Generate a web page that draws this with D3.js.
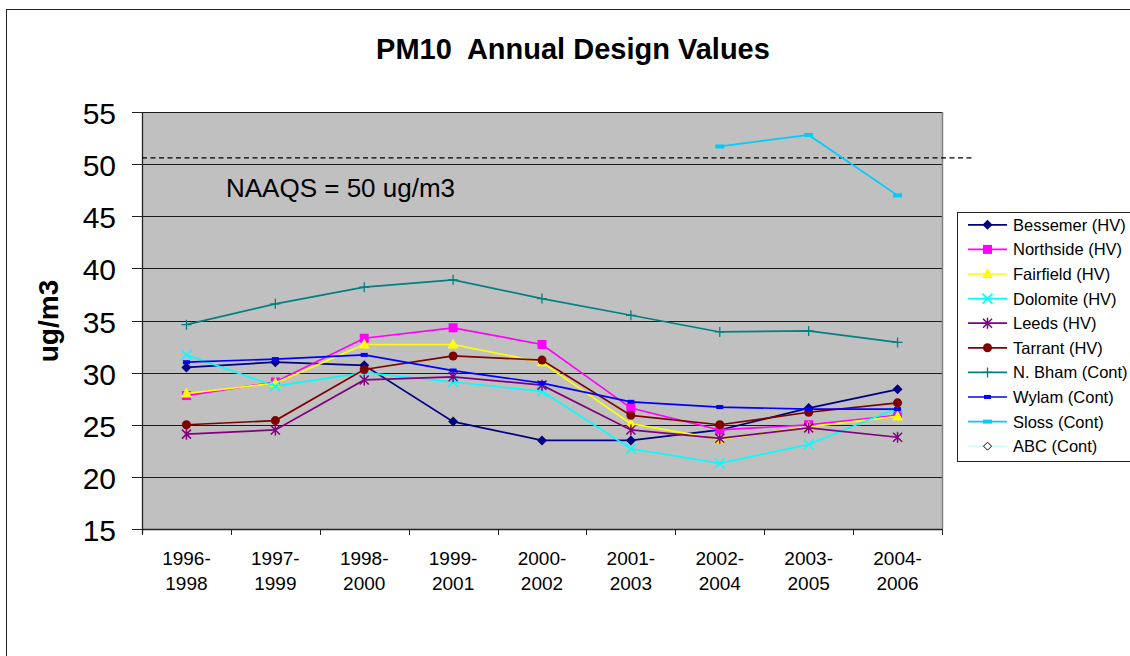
<!DOCTYPE html>
<html>
<head>
<meta charset="utf-8">
<script src="https://cdn.jsdelivr.net/npm/d3@7"></script>
<style>
  body { margin: 0; background: #fff; }
  svg { display: block; font-family: "Liberation Sans", Arial, sans-serif; }
</style>
</head>
<body>
<svg id="chart" width="1130" height="656"></svg>
<script>
// data
const periods = ["1996-1998", "1997-1999", "1998-2000", "1999-2001", "2000-2002",
                 "2001-2003", "2002-2004", "2003-2005", "2004-2006"];

const bessemer  = [30.5, 31.0, 30.7, 25.3, 23.5, 23.5, 24.5, 26.6, 28.4];
const northside = [27.8, 29.1, 33.3, 34.3, 32.7, 26.6, 24.5, 25.0, 25.9];
const fairfield = [28.0, 29.0, 32.7, 32.7, 31.0, 25.1, 23.6, 24.8, 25.8];
const dolomite  = [31.7, 28.7, 30.0, 29.1, 28.2, 22.7, 21.3, 23.1, 26.6];
const leeds     = [24.1, 24.5, 29.3, 29.6, 28.8, 24.5, 23.7, 24.7, 23.8];
const tarrant   = [25.0, 25.4, 30.3, 31.6, 31.2, 25.9, 25.0, 26.2, 27.1];
const nBham     = [34.6, 36.6, 38.2, 38.9, 37.1, 35.5, 33.9, 34.0, 32.9];
const wylam     = [31.0, 31.3, 31.7, 30.2, 29.0, 27.2, 26.7, 26.5, 26.5];
const sloss     = [null, null, null, null, null, null, 51.7, 52.8, 47.0];
const abc       = [null, null, null, null, null, null, null, null, null];

const yTicks = [15, 20, 25, 30, 35, 40, 45, 50, 55];
const naaqsLine = 50.6;
const naaqsLabel = "NAAQS = 50 ug/m3";

const series = [
  { name: "Bessemer (HV)",  values: bessemer,  color: "#000080", marker: "diamond" },
  { name: "Northside (HV)", values: northside, color: "#FF00FF", marker: "square" },
  { name: "Fairfield (HV)", values: fairfield, color: "#FFFF00", marker: "triangle" },
  { name: "Dolomite (HV)",  values: dolomite,  color: "#00FFFF", marker: "x" },
  { name: "Leeds (HV)",     values: leeds,     color: "#800080", marker: "star" },
  { name: "Tarrant (HV)",   values: tarrant,   color: "#800000", marker: "circle" },
  { name: "N. Bham (Cont)", values: nBham,     color: "#008080", marker: "plus" },
  { name: "Wylam (Cont)",   values: wylam,     color: "#0000FF", marker: "dash" },
  { name: "Sloss (Cont)",   values: sloss,     color: "#00CCFF", marker: "longdash" },
  { name: "ABC (Cont)",     values: abc,       color: "#CCFFFF", marker: "hollowdiamond" }
];

const svg = d3.select("#chart");
const plot = { left: 142, right: 942, top: 112, bottom: 529 };

const x = d3.scaleBand().domain(periods).range([plot.left, plot.right]);
const y = d3.scaleLinear().domain([15, 55]).range([plot.bottom, plot.top]);
const cx = p => x(p) + x.bandwidth() / 2;

// outer frame
svg.append("rect")
  .attr("x", 6.5).attr("y", 9.5).attr("width", 1140).attr("height", 660)
  .attr("fill", "none").attr("stroke", "#222").attr("stroke-width", 1);

// title
svg.append("text")
  .attr("x", 573).attr("y", 59)
  .attr("text-anchor", "middle")
  .attr("font-size", "29px").attr("font-weight", "bold")
  .attr("xml:space", "preserve")
  .text("PM10  Annual Design Values");

// plot background
svg.append("rect")
  .attr("x", plot.left).attr("y", plot.top)
  .attr("width", plot.right - plot.left).attr("height", plot.bottom - plot.top)
  .attr("fill", "#C0C0C0");

// gridlines
svg.append("g").selectAll("line")
  .data(yTicks.filter(t => t > 15))
  .join("line")
  .attr("x1", plot.left).attr("x2", plot.right)
  .attr("y1", d => Math.round(y(d)) + 0.5).attr("y2", d => Math.round(y(d)) + 0.5)
  .attr("stroke", "#1a1a1a").attr("stroke-width", 1);

// right border of plot
svg.append("line")
  .attr("x1", plot.right + 0.5).attr("x2", plot.right + 0.5)
  .attr("y1", plot.top).attr("y2", plot.bottom)
  .attr("stroke", "#808080").attr("stroke-width", 1.5);

// y axis
const yAxis = svg.append("g");
yAxis.append("line")
  .attr("x1", plot.left + 0.5).attr("x2", plot.left + 0.5)
  .attr("y1", plot.top).attr("y2", plot.bottom + 5)
  .attr("stroke", "#222").attr("stroke-width", 1.3);
yAxis.selectAll(".tick")
  .data(yTicks)
  .join("line")
  .attr("x1", plot.left - 10).attr("x2", plot.left)
  .attr("y1", d => Math.round(y(d)) + 0.5).attr("y2", d => Math.round(y(d)) + 0.5)
  .attr("stroke", "#222");
yAxis.selectAll("text")
  .data(yTicks)
  .join("text")
  .attr("x", 116).attr("y", d => y(d) + 12)
  .attr("text-anchor", "end")
  .attr("font-size", "30px")
  .text(d => d);

// x axis
const xAxis = svg.append("g");
xAxis.append("line")
  .attr("x1", plot.left).attr("x2", plot.right)
  .attr("y1", plot.bottom + 0.5).attr("y2", plot.bottom + 0.5)
  .attr("stroke", "#222").attr("stroke-width", 1.3);
xAxis.selectAll(".tick")
  .data(periods.concat(["end"]))
  .join("line")
  .attr("x1", d => Math.round(d === "end" ? plot.right : x(d)) + 0.5)
  .attr("x2", d => Math.round(d === "end" ? plot.right : x(d)) + 0.5)
  .attr("y1", plot.bottom).attr("y2", plot.bottom + 6)
  .attr("stroke", "#222");
const xl = xAxis.selectAll("text")
  .data(periods)
  .join("text")
  .attr("text-anchor", "middle")
  .attr("font-size", "19px");
xl.append("tspan").attr("x", d => cx(d)).attr("y", 565).text(d => d.split("-")[0] + "-");
xl.append("tspan").attr("x", d => cx(d)).attr("y", 590).text(d => d.split("-")[1]);

// y axis title
svg.append("text")
  .attr("transform", "translate(58,321) rotate(-90)")
  .attr("text-anchor", "middle")
  .attr("font-size", "28px").attr("font-weight", "bold")
  .text("ug/m3");

// NAAQS reference line and label
svg.append("line")
  .attr("x1", plot.left).attr("x2", 975)
  .attr("y1", y(naaqsLine)).attr("y2", y(naaqsLine))
  .attr("stroke", "#000").attr("stroke-width", 1.3)
  .attr("stroke-dasharray", "5,3.5");
svg.append("text")
  .attr("x", 226).attr("y", 197)
  .attr("font-size", "26px")
  .text(naaqsLabel);

// markers
function drawMarker(g, type, color) {
  switch (type) {
    case "diamond":
      g.append("path").attr("d", "M0,-5L5,0L0,5L-5,0Z").attr("fill", color);
      break;
    case "hollowdiamond":
      g.append("path").attr("d", "M0,-4L4,0L0,4L-4,0Z").attr("fill", "#fff").attr("stroke", "#000").attr("stroke-width", 1);
      break;
    case "square":
      g.append("rect").attr("x", -4.5).attr("y", -4.5).attr("width", 9).attr("height", 9).attr("fill", color);
      break;
    case "triangle":
      g.append("path").attr("d", "M0,-6L5.5,4L-5.5,4Z").attr("fill", color);
      break;
    case "circle":
      g.append("circle").attr("r", 4.5).attr("fill", color);
      break;
    case "x":
      g.append("path").attr("d", "M-5,-5L5,5M-5,5L5,-5").attr("stroke", color).attr("stroke-width", 1.5).attr("fill", "none");
      break;
    case "star":
      g.append("path").attr("d", "M-4.5,-4.5L4.5,4.5M-4.5,4.5L4.5,-4.5M0,-5.5L0,5.5").attr("stroke", color).attr("stroke-width", 1.5).attr("fill", "none");
      break;
    case "plus":
      g.append("path").attr("d", "M-5,0L5,0M0,-5L0,5").attr("stroke", color).attr("stroke-width", 1.3).attr("fill", "none");
      break;
    case "dash":
      g.append("rect").attr("x", -3.5).attr("y", -2).attr("width", 7).attr("height", 4).attr("fill", color);
      break;
    case "longdash":
      g.append("rect").attr("x", -4.5).attr("y", -2).attr("width", 9).attr("height", 4).attr("fill", color);
      break;
  }
}

const line = d3.line()
  .defined(d => d.v != null)
  .x(d => cx(d.p))
  .y(d => y(d.v));

series.forEach(s => {
  const pts = periods.map((p, i) => ({ p, v: s.values[i] }));
  const g = svg.append("g");
  g.append("path")
    .datum(pts)
    .attr("d", line)
    .attr("fill", "none")
    .attr("stroke", s.color)
    .attr("stroke-width", 1.7);
  pts.filter(d => d.v != null).forEach(d => {
    const m = g.append("g").attr("transform", `translate(${cx(d.p)},${y(d.v)})`);
    drawMarker(m, s.marker, s.color);
  });
});

// legend
const legend = svg.append("g");
legend.append("rect")
  .attr("x", 957.5).attr("y", 212.5).attr("width", 200).attr("height", 249)
  .attr("fill", "#fff").attr("stroke", "#222").attr("stroke-width", 1);
series.forEach((s, i) => {
  const ly = 224.8 + i * 24.6;
  const g = legend.append("g");
  g.append("line")
    .attr("x1", 968).attr("x2", 1007).attr("y1", ly).attr("y2", ly)
    .attr("stroke", s.color).attr("stroke-width", 1.7);
  drawMarker(g.append("g").attr("transform", `translate(987.5,${ly})`), s.marker, s.color);
  g.append("text")
    .attr("x", 1013).attr("y", ly + 6)
    .attr("font-size", "16.5px")
    .text(s.name);
});
</script>
</body>
</html>
